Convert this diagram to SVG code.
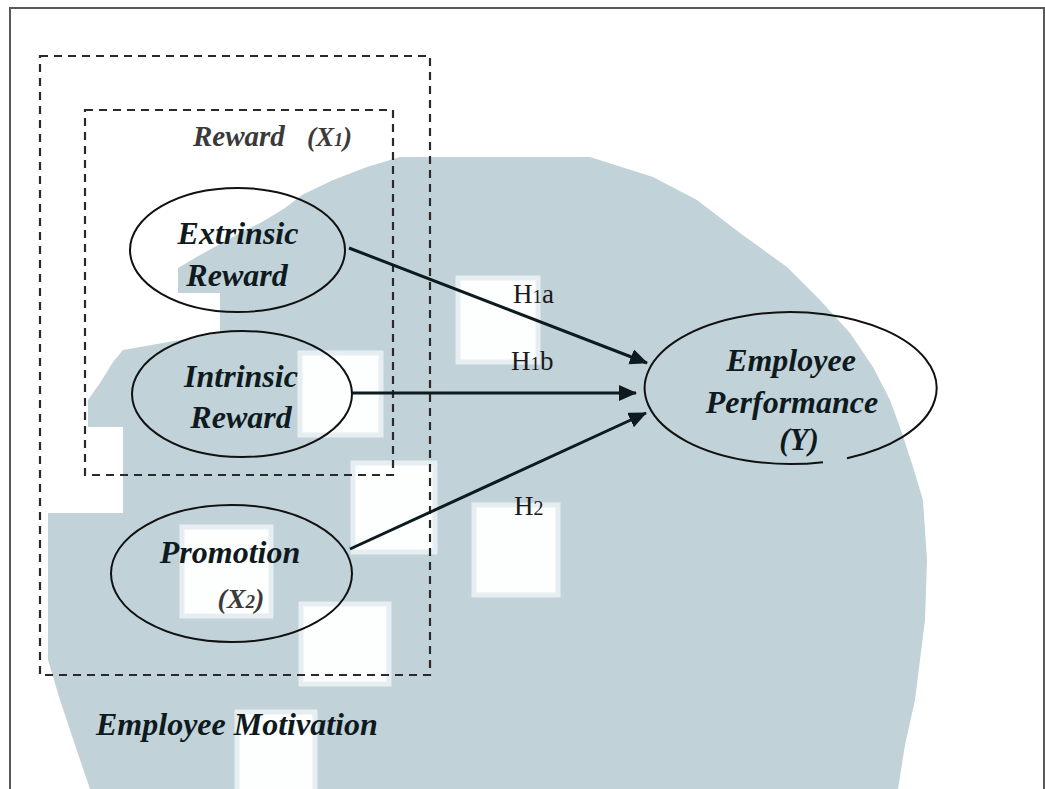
<svg xmlns="http://www.w3.org/2000/svg" width="1045" height="789" viewBox="0 0 1045 789">
  <style>
    .frame { fill: none; stroke: #5a5a5a; stroke-width: 2; }
    .group-box { fill: none; stroke: #2a2a2a; stroke-width: 2.2; stroke-dasharray: 8 6; }
    .node { fill: none; stroke: #111; stroke-width: 2; }
    .label { font-family: "Liberation Serif", "Times New Roman", serif; font-weight: bold; font-style: italic; fill: #0f1a1e; }
    .label-soft { fill: #3a3a3a; }
    .hyp { font-family: "Liberation Serif", "Times New Roman", serif; font-size: 27px; fill: #1a1a1a; }
    .edge { stroke: #0d1a1e; stroke-width: 3; fill: none; marker-end: url(#arrow); }
    .wm { fill: #c1d3d9; }
    .wm-hole { fill: #fdfefe; stroke: #e6eef1; stroke-width: 5; }
  </style>
  <defs>
    <marker id="arrow" markerUnits="userSpaceOnUse" markerWidth="20" markerHeight="18" refX="17" refY="8" orient="auto">
      <path d="M0,0 L18,8 L0,16 Z" fill="#0d1a1e"/>
    </marker>
  </defs>

  <rect width="1045" height="789" fill="#ffffff"/>

  <!-- background watermark -->
  <g id="watermark">
    <path class="wm" d="M400,157 L590,157 L653,177 L697,200 L740,233 L787,267 L820,300 L850,333 L873,367 L890,400 L902,433 L913,467 L923,500 L927,560 L925,620 L915,700 L905,745 L898,789 L90,789 L75,745 L60,700 L48,660 L48,513 L123,513 L123,427 L88,427 L88,400 L100,383 L113,362 L123,350 L220,333 L220,293 L178,293 L178,268 L200,255 L222,243 L242,232 L262,222 L285,208 L302,195 L333,180 L367,167 Z"/>
    <rect class="wm-hole" x="458" y="278" width="80" height="84"/>
    <rect class="wm-hole" x="300" y="353" width="81" height="82"/>
    <rect class="wm-hole" x="353" y="463" width="82" height="89"/>
    <rect class="wm-hole" x="474" y="505" width="84" height="90"/>
    <rect class="wm-hole" x="182" y="527" width="89" height="89"/>
    <rect class="wm-hole" x="301" y="604" width="88" height="80"/>
    <rect class="wm-hole" x="237" y="712" width="78" height="90"/>
  </g>

  <!-- outer frame -->
  <rect class="frame" x="10" y="8" width="1034" height="800"/>

  <!-- grouping boxes -->
  <g id="employee-motivation">
    <rect class="group-box" x="40" y="56" width="390" height="619"/>
    <text class="label" x="96" y="735" font-size="32">Employee Motivation</text>
  </g>
  <g id="reward-x1">
    <rect class="group-box" x="85" y="110" width="308" height="365"/>
    <text class="label label-soft" x="193" y="146" font-size="29">Reward</text>
    <text class="label label-soft" x="307" y="146" font-size="27">(X<tspan font-size="18">1</tspan>)</text>
  </g>

  <!-- connectors -->
  <g id="connectors">
    <line class="edge" x1="349" y1="248" x2="647" y2="363"/>
    <line class="edge" x1="351" y1="393" x2="636" y2="393"/>
    <line class="edge" x1="350" y1="549" x2="646" y2="413"/>
    <text class="hyp" x="513" y="303">H<tspan font-size="19">1</tspan>a</text>
    <text class="hyp" x="511" y="370">H<tspan font-size="19">1</tspan>b</text>
    <text class="hyp" x="514" y="515">H<tspan font-size="20">2</tspan></text>
  </g>

  <!-- nodes -->
  <g id="extrinsic-reward">
    <ellipse class="node" cx="237.5" cy="250" rx="107.5" ry="62"/>
    <text class="label" x="238" y="244" font-size="32" text-anchor="middle">Extrinsic</text>
    <text class="label" x="237" y="286" font-size="32" text-anchor="middle">Reward</text>
  </g>
  <g id="intrinsic-reward">
    <ellipse class="node" cx="242" cy="394" rx="110" ry="63"/>
    <text class="label" x="241" y="387" font-size="32" text-anchor="middle">Intrinsic</text>
    <text class="label" x="241" y="428" font-size="32" text-anchor="middle">Reward</text>
  </g>
  <g id="promotion">
    <ellipse class="node" cx="231.5" cy="573.5" rx="120.5" ry="68.5"/>
    <text class="label" x="230" y="563" font-size="32" text-anchor="middle">Promotion</text>
    <text class="label label-soft" x="241" y="608" font-size="28" text-anchor="middle">(X<tspan font-size="19">2</tspan>)</text>
  </g>
  <g id="employee-performance">
    <path class="node" d="M823,462.2 A146,76 0 1 1 847,458.2"/>
    <text class="label" x="791" y="371" font-size="32" text-anchor="middle">Employee</text>
    <text class="label" x="792" y="413" font-size="32" text-anchor="middle">Performance</text>
    <text class="label" x="799" y="450" font-size="31" text-anchor="middle">(Y)</text>
  </g>
</svg>
